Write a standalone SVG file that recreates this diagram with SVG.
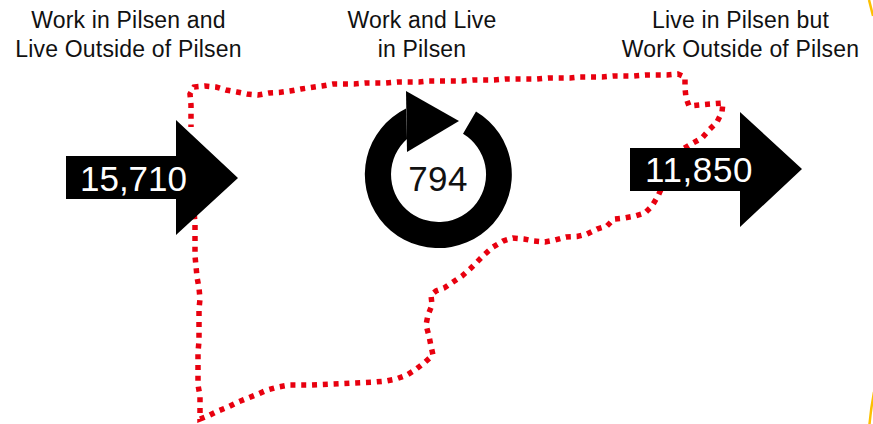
<svg xmlns="http://www.w3.org/2000/svg" width="873" height="424" viewBox="0 0 873 424">
<style>
.lbl{font-family:"Liberation Sans",Arial,sans-serif;font-size:23px;letter-spacing:.18px;fill:#111;text-anchor:middle}
.num{font-family:"Liberation Sans",Arial,sans-serif;font-size:35px;text-anchor:middle}
.b{fill:#000}
</style>
<rect width="873" height="424" fill="#fff"/>
<g id="connectors">
<path id="boundary" fill="none" stroke="#e8000f" stroke-width="5.500" stroke-dasharray="5 5.800" stroke-dashoffset="2.500" d="M191,127 L191,116 L191,105 L190,94 L194,87 L205,86 L216,87 L226,90 L237,92 L247,94 L258,95 L269,93 L279,92.500 L290,91 L301,89 L311,87.500 L322,86 L333,84 L343,84 L354,84 L365,83 L376,83 L386,83 L397,82 L408,82 L419,82 L429,81 L440,81 L451,81 L462,81 L473,80 L483,80 L494,80 L505,79 L516,79 L527,79 L537,79 L548,78 L559,78 L570,78 L580,77 L591,77 L602,77 L613,76 L624,76 L634,76 L645,75 L656,75 L667,75 L678,74 L685,77 L685,88 L686,98 L689,106 L699,105 L710,104 L723,103 L722,112 L717,122 L709,130 L702,138 L693,143 L683,149 L672,160 L666,175 L662,187 L658,196 L652,206 L645,213 L635,216 L624,218 L614,219 L607,226 L597,229 L587,234 L577,236.500 L566,237 L555,240 L545,242 L534,241 L524,239 L513,238 L503,241 L493,247 L485,254 L477,262 L470,269 L462,276 L453,282 L444,288 L436,291 L431,295 L432,305 L428,315 L426,325 L429,336 L431,346 L433,355 L424,363 L415,370 L407,375 L396,379 L386,381 L375,382 L364,382.500 L353,383 L343,383.500 L332,384 L321,384.500 L310,385 L300,385 L289,385 L278,387 L267,390 L258,394 L248,398 L238,402 L228,407 L218,411 L208,416 L200,419 L200,406 L200,396 L198,385 L198,374 L198,363 L198,352 L199,341 L199,330 L199,320 L199,309 L200,299 L199,288 L197,277 L196,266 L195,256 L195,245 L195,234 L195,223 L194,212"/>
</g>
<g id="label-work-in">
<text class="lbl" x="128.500" y="27.500">Work in Pilsen and</text>
<text class="lbl" x="128.500" y="56.500">Live Outside of Pilsen</text>
</g>
<g id="label-work-live">
<text class="lbl" x="422" y="27.500">Work and Live</text>
<text class="lbl" x="422" y="56.500">in Pilsen</text>
</g>
<g id="label-live-in">
<text class="lbl" x="740.500" y="27.500">Live in Pilsen but</text>
<text class="lbl" x="740.500" y="56.500">Work Outside of Pilsen</text>
</g>
<g id="arrow-in">
<path class="b" d="M66,156 H176 V120 L238,178 L176,235 V199 H66 Z"/>
<text class="num" x="133.500" y="191" fill="#fff">15,710</text>
</g>
<g id="cycle">
<path class="b" d="M476,111.500 A73.500 73.500 0 1 1 406,108.600 L407,139 A47.500 47.500 0 1 0 463,133.800 Z"/>
<path class="b" d="M406,91 L459,121 L407,152 Z"/>
<text class="num" x="438" y="191" fill="#111" style="letter-spacing:.4px">794</text>
</g>
<g id="arrow-out">
<path class="b" d="M630,148 H740 V112 L802,169 L740,227 V191 H630 Z"/>
<text class="num" x="699" y="182" fill="#fff" style="letter-spacing:.6px">11,850</text>
</g>
<path id="edge" fill="none" stroke="#fcc000" stroke-width="2.500" d="M874,392 Q871,408 869.500,424"/>
<path id="edge-top" fill="none" stroke="#fcc000" stroke-width="2.500" d="M869,0 Q871,8 873,16"/>
</svg>
